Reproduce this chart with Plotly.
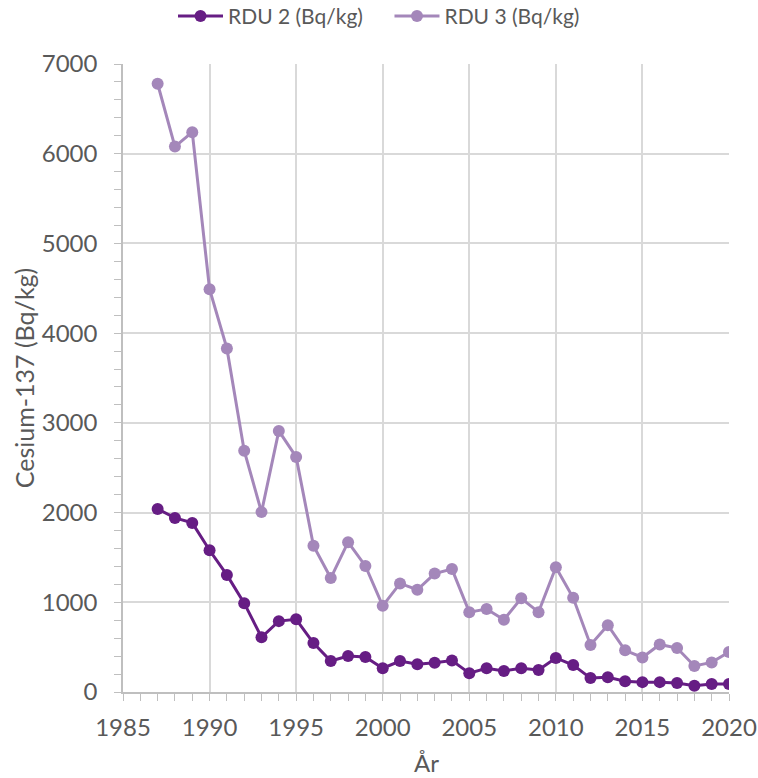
import plotly.graph_objects as go

years = list(range(1987, 2021))

rdu2 = [2040, 1940, 1885, 1580, 1305, 990, 610, 790, 810, 545,
        345, 400, 390, 265, 345, 310, 325, 350, 210, 265,
        235, 265, 245, 380, 300, 155, 165, 120, 110, 110,
        100, 70, 90, 90]

rdu3 = [6780, 6080, 6240, 4490, 3830, 2690, 2005, 2910, 2620, 1630,
        1270, 1670, 1405, 960, 1210, 1140, 1320, 1370, 890, 925,
        805, 1045, 890, 1390, 1050, 525, 745, 465, 385, 530,
        490, 290, 330, 445]

dark = "#661d84"
light = "#a487ba"
grid = "#d9d9d9"
axis_col = "#bfbfbf"
text_col = "#595959"
font_family = "Lato, 'Open Sans', sans-serif"

fig = go.Figure()
fig.add_trace(go.Scatter(
    x=years, y=rdu2, name="RDU 2 (Bq/kg)    ", mode="lines+markers",
    line=dict(color=dark, width=3), marker=dict(color=dark, size=12),
))
fig.add_trace(go.Scatter(
    x=years, y=rdu3, name="RDU 3 (Bq/kg)", mode="lines+markers",
    line=dict(color=light, width=3), marker=dict(color=light, size=12),
))

fig.update_layout(
    width=758, height=778,
    margin=dict(l=123, r=29, t=64, b=86, autoexpand=False),
    paper_bgcolor="white", plot_bgcolor="white",
    font=dict(family=font_family, color=text_col),
    showlegend=True,
    legend=dict(orientation="h", x=0.5, xanchor="center", xref="container",
                y=0.979, yanchor="middle", yref="container",
                font=dict(size=21, color=text_col),
                itemwidth=45, tracegroupgap=0),
    xaxis=dict(
        range=[1985, 2020], dtick=5, tick0=1985, automargin=False,
        showgrid=True, gridcolor=grid, gridwidth=1.5,
        showline=True, linecolor=axis_col, linewidth=1.5,
        ticks="outside", ticklen=7, tickcolor=axis_col,
        ticklabelstandoff=6,
        tickfont=dict(size=24, color=text_col),
        minor=dict(dtick=1, ticks="outside", ticklen=7, tickcolor=axis_col, showgrid=False),
        zeroline=False,
    ),
    yaxis=dict(
        range=[0, 7000], dtick=1000, automargin=False,
        showgrid=True, gridcolor=grid, gridwidth=1.5,
        showline=True, linecolor=axis_col, linewidth=1.5,
        ticks="outside", ticklen=7, tickcolor=axis_col,
        ticklabelstandoff=12,
        tickfont=dict(size=24, color=text_col),
        minor=dict(dtick=200, ticks="outside", ticklen=7, tickcolor=axis_col, showgrid=False),
        zeroline=False,
    ),
)

# Axis titles placed as annotations for precise positioning
fig.add_annotation(text="Cesium-137 (Bq/kg)", textangle=-90,
                   xref="paper", yref="paper", x=-0.163, y=0.5,
                   xanchor="center", yanchor="middle", showarrow=False,
                   font=dict(size=25, color=text_col))
fig.add_annotation(text="År",
                   xref="paper", yref="paper", x=0.5, y=-0.113,
                   xanchor="center", yanchor="middle", showarrow=False,
                   font=dict(size=24, color=text_col))

fig.write_html("out.html")
